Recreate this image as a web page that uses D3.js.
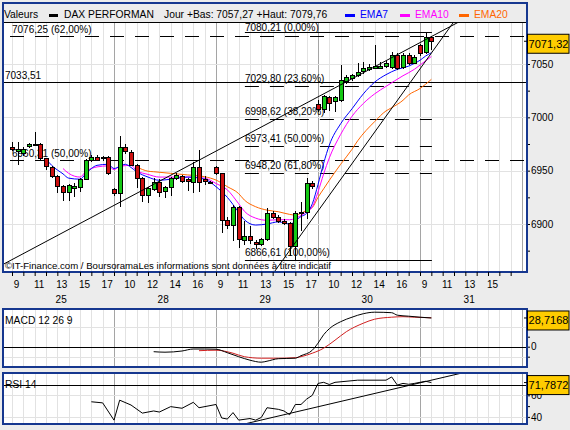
<!DOCTYPE html>
<html>
<head>
<meta charset="utf-8">
<script src="https://cdn.jsdelivr.net/npm/d3@7"></script>
<style>
  body { margin: 0; background: #ececec; }
  svg { display: block; font-family: "Liberation Sans", Arial, sans-serif; }
</style>
</head>
<body>
<div id="chart"></div>
<script>
// 30 min candles, 18 slots a day (9:00 .. 17:30), slot index = position in arrays
const days = ["25", "28", "29", "30", "31"];
const hourLabels = ["9", "11", "13", "15", "17", "10", "12", "14", "16", "9", "11",
  "13", "15", "17", "10", "12", "14", "16", "9", "11", "13", "15"];

const opens = [6972.4, 6969, 6966.3, 6972.4, 6974.7, 6974.7, 6961.6, 6953.7, 6945, 6935.6,
  6929.7, 6934.5, 6934.4, 6941.9, 6960, 6963.1, 6962.5, 6962.5, 6932.5, 6928.8,
  6971.9, 6967.8, 6955.3, 6942.8, 6927.2, 6933.5, 6939.6, 6930.3, 6934.4, 6942.8,
  6945, 6941.9, 6939.6, 6953.7, 6941.9, 6939.6, 6953.1, 6947.5, 6903.8, 6899.1,
  6915.7, 6885, 6888.8, 6883.4, 6881.3, 6885.7, 6910, 6906.8, 6903.1, 6901.2,
  6879.4, 6910.6, 6911.2, 6938.7, 7012.5, 7007.5, 7018.7, 7014.6, 7016.2, 7033.4,
  7036.6, 7039.6, 7042.7, 7045, 7046.2, 7046.9, 7047.4, 7046.9, 7058.4, 7046.9,
  7058.4, 7051.5, 7067.8, 7060.5, 7075];
const highs = [6977, 6977, 6972, 6976, 6986, 6976, 6962, 6954.5, 6946, 6937,
  6937.5, 6938, 6943, 6961, 6965, 6965, 6964, 6964, 6934, 6982.5,
  6975, 6969, 6956, 6944, 6935, 6943, 6942, 6936, 6944, 6948,
  6946, 6943, 6958.4, 6969.4, 6945, 6940.5, 6954, 6948, 6907, 6917.5,
  6916.5, 6903, 6898, 6885, 6887, 6914.7, 6912, 6908, 6905, 6902,
  6912, 6921, 6942.8, 6940, 7016, 7021, 7020, 7020, 7049, 7040,
  7041, 7050.6, 7052, 7050, 7067.6, 7052, 7053, 7061, 7060, 7060,
  7060, 7058, 7069, 7079.76, 7076];
const lows = [6968, 6955, 6964, 6971, 6973, 6960, 6951, 6943, 6929, 6921.6,
  6921.6, 6925, 6930, 6941, 6958, 6959, 6959, 6946, 6926, 6916.2,
  6966, 6954, 6933.5, 6921, 6920, 6931, 6925, 6924, 6926, 6941,
  6938, 6931, 6929.2, 6930, 6937, 6937.5, 6946, 6891.6, 6895, 6884,
  6877.5, 6880, 6881, 6877, 6879, 6884, 6905, 6901, 6899, 6870,
  6866.61, 6893, 6905, 6933, 7005, 7004, 7006, 7005, 7014, 7031,
  7034, 7038, 7041, 7043, 7045, 7045, 7046, 7045, 7044, 7045,
  7049, 7050, 7057.27, 7059, 7063];
const closes = [6970.6, 6970.5, 6970, 6974.7, 6975, 6961.6, 6953.7, 6945, 6935.6, 6930.3,
  6936.6, 6936, 6941.9, 6960, 6962.5, 6960.6, 6961.6, 6947.5, 6928.8, 6971.9,
  6967.8, 6955.3, 6942.8, 6927.2, 6933.5, 6939.6, 6930.3, 6934.4, 6942.8, 6945.9,
  6940.6, 6939.6, 6953.7, 6939.6, 6939.6, 6938.7, 6947.5, 6903.8, 6899.1, 6915.7,
  6885.7, 6888.8, 6885, 6881.3, 6885.7, 6910, 6906.3, 6903.1, 6901.2, 6879.4,
  6910.6, 6911.2, 6938.7, 6935.6, 7007.5, 7020, 7013.1, 7018.7, 7035, 7037.5,
  7039.6, 7042.7, 7045.9, 7046.9, 7048.1, 7048.4, 7050.6, 7058.4, 7045.9, 7058.4,
  7050.6, 7056.8, 7060.5, 7075, 7071.32];

// moving averages, [slot, value]
const ema7 = [[6, 6961], [7, 6955], [9, 6947], [10, 6943], [12, 6942], [13, 6947], [14, 6952],
  [15, 6955], [17, 6956], [18, 6952], [19, 6954], [20, 6956], [21, 6953], [22, 6949], [24, 6944],
  [26, 6941], [28, 6942], [31, 6944], [34, 6942], [36, 6935], [38, 6925], [40, 6911], [41, 6904],
  [43, 6899], [45, 6900], [47, 6902], [49, 6900], [51, 6907], [52, 6910], [53, 6919], [54, 6937],
  [55, 6957], [56, 6974], [58, 6994], [60, 7008], [62, 7022], [64, 7033], [66, 7040], [68, 7045],
  [70, 7048], [71, 7050.5], [72, 7053.5], [73, 7057.5], [74, 7060.5]];
const ema10 = [[9, 6952], [10, 6947.5], [12, 6944], [13, 6949], [15, 6953.5], [17, 6954.5],
  [18, 6951], [19, 6954], [21, 6955], [22, 6950], [24, 6946.5], [26, 6944], [28, 6944], [31, 6944],
  [34, 6943], [36, 6938], [38, 6932], [40, 6919], [41, 6912], [43, 6905.5], [45, 6903.5], [47, 6904],
  [49, 6904], [51, 6908], [52, 6911.5], [53, 6916], [54, 6930], [55, 6947], [56, 6962], [58, 6984],
  [60, 7001], [62, 7013], [64, 7022], [66, 7029], [69, 7039], [71, 7045], [72, 7049], [73, 7053],
  [74, 7057]];
const ema20 = [[22, 6953.5], [24, 6949.5], [25, 6949], [28, 6947.5], [31, 6946], [34, 6944.3],
  [36, 6941.2], [38, 6935], [40, 6928.5], [41, 6922.5], [43, 6916.2], [45, 6913], [47, 6911.5],
  [49, 6909], [50, 6908.4], [51, 6910], [52, 6913], [53, 6915.5], [54, 6925], [55, 6933],
  [56, 6941], [58, 6956], [60, 6970], [61, 6978], [64, 6996], [66, 7006], [67, 7009], [69, 7016],
  [70, 7021], [72, 7027], [74, 7035.6]];
const emaNames = ["EMA7", "EMA10", "EMA20"];

// drawn objects on the price chart
const fibPercents = ["0,00", "23,60", "38,20", "50,00", "61,80", "100,00"];
const fibValues = [7080.21, 7029.80, 6998.62, 6973.41, 6948.20, 6866.61];
const fibSlots = [41.1, 74.1];
const levelValues = [7076.25, 7033.51, 6960.31];
const levelPercents = ["62,00", "", "50,00"];
const trendA = [[0, 6866.6], [74, 7075.7]];
const trendB = [[47.3, 6862.6], [77, 7082.4]];

// indicators, [slot, value]
const macd = [[25, -5], [27, -5.5], [30, -4.3], [32, -2.3], [34, -2.3], [36, -2.5], [38, -6],
  [40, -10], [42, -13.5], [44, -15.5], [45, -14.5], [47, -12], [50, -11.5], [51, -9], [53, -3.5],
  [54, 3.5], [55, 12], [56, 18], [58, 25], [60, 29.5], [62, 33], [64, 34.5], [67, 34], [68, 31.5],
  [70, 30.5], [72, 29.5], [74, 28.7168]];
const macdSignal = [[33, -4], [36, -3.5], [39, -6.5], [41, -10], [44, -11.5], [47, -11.5],
  [50, -11], [51, -10], [53, -6.5], [55, -1.5], [57, 6.5], [59, 15], [62, 23.5], [64, 27.5],
  [67, 29.5], [69, 30], [71, 29.5], [74, 28.9]];
const rsi = [[14, 54], [16, 53], [18, 37], [19, 55.5], [21, 51], [23, 43.5], [25, 45.5],
  [26, 44.5], [28, 49.5], [30, 48], [32, 53.5], [33, 48.5], [36, 51.5], [37, 39], [38, 38],
  [39, 44], [40, 37], [42, 38.5], [43, 37], [44, 39.5], [45, 48.5], [47, 47], [48, 45.5],
  [49, 42], [50, 51.5], [51, 51.5], [52, 56.5], [53, 60], [54, 71], [55, 72], [56, 70],
  [57, 72], [61, 74], [66, 74], [67, 77], [68, 69.5], [69, 71], [70, 70.2], [71, 71],
  [73, 73], [74, 71.7872]];
const rsiTrend = [[42.3, 35], [77.9, 78.8]];

const lastPrice = 7071.32;
const dayLow = 7057.27, dayHigh = 7079.76;

// ---------------------------------------------------------------
const fr = d3.formatLocale({ decimal: ",", thousands: "", grouping: [3], currency: ["", ""] });
const f2 = fr.format(".2f"), f4 = fr.format(".4f");

const W = 570, H = 430;
const L = 3, R = 527;
const main = { top: 3, head: 22, bottom: 272 };
const pMacd = { top: 309, bottom: 367 };
const pRsi = { top: 373, bottom: 424 };
const colors = { up: "#14c814", down: "#cc1010", ema: ["#0000ff", "#ff00ff", "#ff6600"],
  border: "#16378f", grid: "#e2e2e2", gridDay: "#a5a5a5", box: "#ffcc00" };

const x = d3.scaleLinear().domain([0, 90]).range([12, 522]);
const y = d3.scaleLinear().domain([6900, 7050]).range([224, 64]);
const yMacd = d3.scaleLinear().domain([0, 20]).range([346.7, 326.7]);
const yRsi = d3.scaleLinear().domain([40, 70]).range([416.9, 384.5]);

const svg = d3.select("#chart").append("svg")
  .attr("width", W)
  .attr("height", H);

svg.append("rect").attr("width", W).attr("height", H).attr("fill", "#ececec");

const defs = svg.append("defs");
function clip(id, top, bottom) {
  defs.append("clipPath").attr("id", id)
    .append("rect").attr("x", L).attr("y", top).attr("width", R - L).attr("height", bottom - top);
  return "url(#" + id + ")";
}
const clipMain = clip("cMain", main.head, main.bottom);
const clipMacd = clip("cMacd", pMacd.top, pMacd.bottom);
const clipRsi = clip("cRsi", pRsi.top, pRsi.bottom);

const hourSlots = d3.range(0, 91, 2);

// panel background + vertical grid
function panel(top, bottom) {
  const g = svg.append("g");
  g.append("rect").attr("x", L).attr("y", top).attr("width", R - L).attr("height", bottom - top)
    .attr("fill", "#fff");
  g.selectAll(".vg").data(hourSlots).enter().append("line")
    .attr("x1", d => Math.round(x(d)) + 0.5).attr("x2", d => Math.round(x(d)) + 0.5)
    .attr("y1", top).attr("y2", bottom)
    .attr("stroke", d => d > 0 && d % 18 === 0 ? colors.gridDay : colors.grid);
  return g;
}
function hgrid(g, scale, values) {
  g.selectAll(".hg").data(values).enter().append("line")
    .attr("x1", L).attr("x2", R)
    .attr("y1", d => Math.round(scale(d)) + 0.5).attr("y2", d => Math.round(scale(d)) + 0.5)
    .attr("stroke", colors.grid);
}
function frame(top, bottom) {
  svg.append("rect").attr("x", L).attr("y", top).attr("width", R - L).attr("height", bottom - top)
    .attr("fill", "none").attr("stroke", colors.border).attr("stroke-width", 2);
}
function valueBox(vy, label) {
  svg.append("line").attr("x1", R - 3).attr("x2", R + 2).attr("y1", vy).attr("y2", vy)
    .attr("stroke", "#000");
  svg.append("rect").attr("x", R + 0.5).attr("y", vy - 7).attr("width", 41.5).attr("height", 19)
    .attr("fill", colors.box).attr("stroke", "#000").attr("stroke-width", 1);
  svg.append("text").attr("x", R + 21.5).attr("y", vy + 6.5).attr("text-anchor", "middle")
    .attr("font-size", 11).text(label);
}

// ------------------------- price panel -------------------------
const gMain = panel(main.head, main.bottom);
hgrid(gMain, y, [6900, 6950, 7000, 7050]);

svg.append("g")
  .attr("transform", "translate(" + R + ",0)")
  .call(d3.axisRight(y).tickValues(d3.range(6875, 7076, 25)).tickSize(3).tickPadding(1)
    .tickFormat(d => d % 50 === 0 ? d : ""))
  .call(g => g.select(".domain").remove())
  .call(g => g.selectAll("text").attr("font-size", 10).attr("font-family", null).attr("fill", "#000"));

const lines = svg.append("g").attr("clip-path", clipMain);

// fixed horizontal levels
levelValues.forEach((v, i) => {
  lines.append("line")
    .attr("x1", i === 1 ? L : 10).attr("x2", R)
    .attr("y1", Math.round(y(v)) + 0.5).attr("y2", Math.round(y(v)) + 0.5)
    .attr("stroke", "#000")
    .attr("stroke-dasharray", i === 1 ? null : "14,11");
  lines.append("text")
    .attr("x", i === 1 ? 5 : 12).attr("y", y(v) - 3)
    .attr("font-size", 10)
    .text(f2(v) + (levelPercents[i] ? " (" + levelPercents[i] + "%)" : ""));
});

// fibonacci retracement
fibValues.forEach((v, i) => {
  const last = i === 0 || i === fibValues.length - 1;
  lines.append("line")
    .attr("x1", x(fibSlots[0])).attr("x2", x(fibSlots[1]))
    .attr("y1", Math.round(y(v)) + 0.5).attr("y2", Math.round(y(v)) + 0.5)
    .attr("stroke", "#000")
    .attr("stroke-dasharray", last ? null : "14,11");
  lines.append("text")
    .attr("x", x(fibSlots[0])).attr("y", Math.max(y(v) - 3.5, 30.5))
    .attr("font-size", 10)
    .text(f2(v) + " (" + fibPercents[i] + "%)");
});

// moving averages
const emaLine = d3.line().x(d => x(d[0])).y(d => y(d[1])).curve(d3.curveMonotoneX);
[ema20, ema10, ema7].forEach((s, i) => {
  lines.append("path").datum(s)
    .attr("d", emaLine)
    .attr("fill", "none")
    .attr("stroke", colors.ema[2 - i])
    .attr("stroke-width", 1);
});

// candles
const candles = lines.append("g").attr("shape-rendering", "crispEdges");
const cs = d3.range(opens.length);
candles.selectAll(".wick").data(cs).enter().append("line")
  .attr("x1", i => Math.round(x(i)) + 0.5).attr("x2", i => Math.round(x(i)) + 0.5)
  .attr("y1", i => y(highs[i])).attr("y2", i => y(lows[i]))
  .attr("stroke", "#000");
candles.selectAll(".body").data(cs).enter().append("rect")
  .attr("x", i => Math.round(x(i)) - 2 + 0.5)
  .attr("y", i => Math.round(y(Math.max(opens[i], closes[i]))) + 0.5)
  .attr("width", 4)
  .attr("height", i => Math.max(1, Math.round(Math.abs(y(opens[i]) - y(closes[i])))))
  .attr("fill", i => closes[i] >= opens[i] ? colors.up : colors.down)
  .attr("stroke", "#000");

// trend lines
function extend(p, q, s0, s1) {
  const k = (q[1] - p[1]) / (q[0] - p[0]);
  return [[s0, p[1] + k * (s0 - p[0])], [s1, p[1] + k * (s1 - p[0])]];
}
const straight = d3.line().x(d => x(d[0])).y(d => y(d[1]));
[trendA, trendB].forEach(t => {
  lines.append("path").datum(extend(t[0], t[1], -5, 95))
    .attr("d", straight).attr("fill", "none").attr("stroke", "#000").attr("stroke-width", 1);
});

lines.append("text")
  .attr("x", 5).attr("y", 269)
  .attr("font-size", 9.6)
  .text("©IT-Finance.com / BoursoramaLes informations sont données à titre indicatif");

// header
svg.append("line").attr("x1", L).attr("x2", R).attr("y1", main.head + 0.5).attr("y2", main.head + 0.5)
  .attr("stroke", "#000");
const head = svg.append("g").attr("font-size", 10.3);
head.append("text").attr("x", 4).attr("y", 18).text("Valeurs");
head.append("rect").attr("x", 49).attr("y", 14).attr("width", 9).attr("height", 3).attr("fill", "#000");
head.append("text").attr("x", 64).attr("y", 18).text("DAX PERFORMAN");
head.append("text").attr("x", 164).attr("y", 18)
  .text("Jour +Bas: " + f2(dayLow) + " +Haut: " + f2(dayHigh));
const legX = [345, 400, 459];
emaNames.forEach((n, i) => {
  head.append("rect").attr("x", legX[i]).attr("y", 14).attr("width", 10).attr("height", 3)
    .attr("fill", colors.ema[i]);
  head.append("text").attr("x", legX[i] + 15).attr("y", 18).attr("fill", colors.ema[i]).text(n);
});

frame(main.top, main.bottom);
valueBox(y(lastPrice), f2(lastPrice));

// time axis
svg.append("g")
  .attr("transform", "translate(0," + main.bottom + ")")
  .call(d3.axisBottom(x).tickValues(d3.range(0, 89, 2)).tickSize(4).tickPadding(5)
    .tickFormat(s => s % 4 === 0 ? hourLabels[s / 4] : ""))
  .call(g => g.select(".domain").remove())
  .call(g => g.selectAll("text").attr("font-size", 10).attr("font-family", null)
    .attr("fill", "#000").attr("dx", 4));

svg.append("g").selectAll("text").data(days).enter().append("text")
  .attr("x", (d, i) => x(i * 18 + 8.5) + 1)
  .attr("y", 303)
  .attr("text-anchor", "middle")
  .attr("font-size", 10)
  .text(d => d);

// ------------------------- MACD -------------------------
const gM = panel(pMacd.top, pMacd.bottom);
hgrid(gM, yMacd, [20, -10]);
const mLines = svg.append("g").attr("clip-path", clipMacd);
mLines.append("line").attr("x1", L).attr("x2", R)
  .attr("y1", Math.round(yMacd(0)) + 0.5).attr("y2", Math.round(yMacd(0)) + 0.5).attr("stroke", "#000");
const macdLine = d3.line().x(d => x(d[0])).y(d => yMacd(d[1])).curve(d3.curveMonotoneX);
mLines.append("path").datum(macdSignal).attr("d", macdLine)
  .attr("fill", "none").attr("stroke", "#d02020");
mLines.append("path").datum(macd).attr("d", macdLine)
  .attr("fill", "none").attr("stroke", "#000");
svg.append("text").attr("x", 5).attr("y", pMacd.top + 15).attr("font-size", 10.3).text("MACD 12 26 9");
svg.append("g")
  .attr("transform", "translate(" + R + ",0)")
  .call(d3.axisRight(yMacd).tickValues([20, 10, 0, -10]).tickSize(3).tickPadding(1)
    .tickFormat(d => d % 20 === 0 ? d : ""))
  .call(g => g.select(".domain").remove())
  .call(g => g.selectAll("text").attr("font-size", 10).attr("font-family", null).attr("fill", "#000"));
frame(pMacd.top, pMacd.bottom);
valueBox(yMacd(macd[macd.length - 1][1]), f4(macd[macd.length - 1][1]));

// ------------------------- RSI -------------------------
const gR = panel(pRsi.top, pRsi.bottom);
hgrid(gR, yRsi, [60, 40]);
const rLines = svg.append("g").attr("clip-path", clipRsi);
rLines.append("line").attr("x1", L).attr("x2", R)
  .attr("y1", Math.round(yRsi(70)) + 0.5).attr("y2", Math.round(yRsi(70)) + 0.5).attr("stroke", "#000");
const rsiLine = d3.line().x(d => x(d[0])).y(d => yRsi(d[1]));
rLines.append("path").datum(rsi).attr("d", rsiLine)
  .attr("fill", "none").attr("stroke", "#000");
rLines.append("path").datum(extend(rsiTrend[0], rsiTrend[1], 38, 95)).attr("d", rsiLine)
  .attr("fill", "none").attr("stroke", "#000");
svg.append("text").attr("x", 5).attr("y", yRsi(70) + 3.5).attr("font-size", 10.3).text("RSI 14");
svg.append("g")
  .attr("transform", "translate(" + R + ",0)")
  .call(d3.axisRight(yRsi).tickValues([70, 60, 50, 40]).tickSize(3).tickPadding(1)
    .tickFormat(d => d % 20 === 0 ? d : ""))
  .call(g => g.select(".domain").remove())
  .call(g => g.selectAll("text").attr("font-size", 10).attr("font-family", null).attr("fill", "#000"));
frame(pRsi.top, pRsi.bottom);
valueBox(yRsi(rsi[rsi.length - 1][1]), f4(rsi[rsi.length - 1][1]));
</script>
</body>
</html>
